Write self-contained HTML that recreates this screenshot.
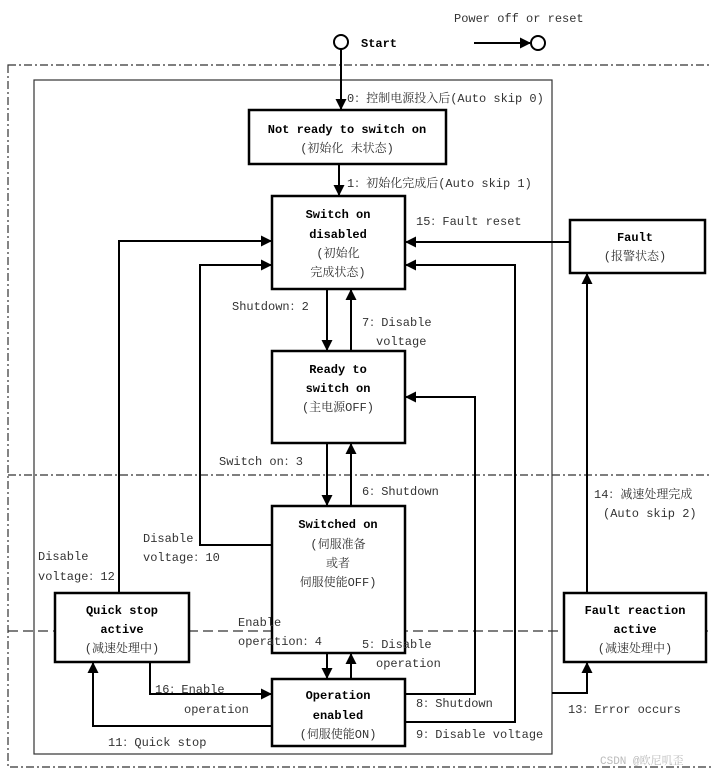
<!DOCTYPE html>
<html><head><meta charset="utf-8"><style>
body{margin:0;background:#fff}
svg{display:block}
text{font-family:"Liberation Mono","Noto Serif CJK SC",monospace;font-size:12px;fill:#333}
.b{font-weight:bold;fill:#000}
</style></head><body>
<svg width="711" height="774" viewBox="0 0 711 774">
<defs><marker id="a" markerWidth="11" markerHeight="11" refX="10" refY="5.5" orient="auto" markerUnits="userSpaceOnUse"><path d="M0,0 L11,5.5 L0,11z" fill="#000"/></marker></defs>
<g fill="none" stroke="#333" stroke-width="1.2">
<rect x="8" y="65" width="710" height="702" stroke-dasharray="8,3,2,3"/>
<line x1="8" y1="475" x2="711" y2="475" stroke-dasharray="8,3,2,3"/>
<line x1="8" y1="631" x2="711" y2="631" stroke-dasharray="10,5"/>
<rect x="34" y="80" width="518" height="674"/>
</g>
<g fill="#fff" stroke="#000" stroke-width="2.5">
<rect x="249" y="110" width="197" height="54"/>
<rect x="272" y="196" width="133" height="93"/>
<rect x="272" y="351" width="133" height="92"/>
<rect x="272" y="506" width="133" height="147"/>
<rect x="272" y="679" width="133" height="67"/>
<rect x="55" y="593" width="134" height="69"/>
<rect x="570" y="220" width="135" height="53"/>
<rect x="564" y="593" width="142" height="69"/>
</g>
<g fill="none" stroke="#000" stroke-width="2">
<circle cx="341" cy="42" r="7"/>
<circle cx="538" cy="43" r="7"/>
<line x1="474" y1="43" x2="530" y2="43" marker-end="url(#a)"/>
<line x1="341" y1="49" x2="341" y2="109" marker-end="url(#a)"/>
<line x1="339" y1="164" x2="339" y2="195" marker-end="url(#a)"/>
<line x1="327" y1="289" x2="327" y2="350" marker-end="url(#a)"/>
<line x1="351" y1="351" x2="351" y2="290" marker-end="url(#a)"/>
<line x1="327" y1="443" x2="327" y2="505" marker-end="url(#a)"/>
<line x1="351" y1="506" x2="351" y2="444" marker-end="url(#a)"/>
<line x1="327" y1="653" x2="327" y2="678" marker-end="url(#a)"/>
<line x1="351" y1="679" x2="351" y2="654" marker-end="url(#a)"/>
<line x1="570" y1="242" x2="406" y2="242" marker-end="url(#a)"/>
<polyline points="405,694 475,694 475,397 406,397" marker-end="url(#a)"/>
<polyline points="405,722 515,722 515,265 406,265" marker-end="url(#a)"/>
<polyline points="119,593 119,241 271,241" marker-end="url(#a)"/>
<polyline points="272,545 200,545 200,265 271,265" marker-end="url(#a)"/>
<polyline points="150,662 150,694 271,694" marker-end="url(#a)"/>
<polyline points="272,726 93,726 93,663" marker-end="url(#a)"/>
<polyline points="552,693 587,693 587,663" marker-end="url(#a)"/>
<line x1="587" y1="593" x2="587" y2="274" marker-end="url(#a)"/>
</g>
<text x="454" y="22">Power off or reset</text>
<text x="361" y="47" class="b">Start</text>
<text x="347" y="102">0：控制电源投入后(Auto skip 0)</text>
<text x="347" y="187">1：初始化完成后(Auto skip 1)</text>
<g text-anchor="middle">
<text x="347" y="133" class="b">Not ready to switch on</text>
<text x="347" y="152">(初始化 未状态)</text>
<text x="338" y="218" class="b">Switch on</text>
<text x="338" y="238" class="b">disabled</text>
<text x="338" y="257">(初始化</text>
<text x="338" y="276">完成状态)</text>
<text x="338" y="373" class="b">Ready to</text>
<text x="338" y="392" class="b">switch on</text>
<text x="338" y="411">(主电源OFF)</text>
<text x="338" y="528" class="b">Switched on</text>
<text x="338" y="548">(伺服准备</text>
<text x="338" y="567">或者</text>
<text x="338" y="586">伺服使能OFF)</text>
<text x="338" y="699" class="b">Operation</text>
<text x="338" y="719" class="b">enabled</text>
<text x="338" y="738">(伺服使能ON)</text>
<text x="122" y="614" class="b">Quick stop</text>
<text x="122" y="633" class="b">active</text>
<text x="122" y="652">(减速处理中)</text>
<text x="635" y="241" class="b">Fault</text>
<text x="635" y="260">(报警状态)</text>
<text x="635" y="614" class="b">Fault reaction</text>
<text x="635" y="633" class="b">active</text>
<text x="635" y="652">(减速处理中)</text>
</g>
<text x="416" y="225">15：Fault reset</text>
<text x="232" y="310">Shutdown：2</text>
<text x="362" y="326">7：Disable</text>
<text x="376" y="345">voltage</text>
<text x="219" y="465">Switch on：3</text>
<text x="362" y="495">6：Shutdown</text>
<text x="143" y="542">Disable</text>
<text x="143" y="561">voltage：10</text>
<text x="38" y="560">Disable</text>
<text x="38" y="580">voltage：12</text>
<text x="238" y="626">Enable</text>
<text x="238" y="645">operation：4</text>
<text x="362" y="648">5：Disable</text>
<text x="376" y="667">operation</text>
<text x="155" y="693">16：Enable</text>
<text x="184" y="713">operation</text>
<text x="108" y="746">11：Quick stop</text>
<text x="416" y="707">8：Shutdown</text>
<text x="416" y="738">9：Disable voltage</text>
<text x="568" y="713">13：Error occurs</text>
<text x="594" y="498">14：减速处理完成</text>
<text x="603" y="517">(Auto skip 2)</text>
<text x="600" y="764" style="font-size:11px;fill:#bbb">CSDN @欧尼叽歪</text>
</svg>
</body></html>
